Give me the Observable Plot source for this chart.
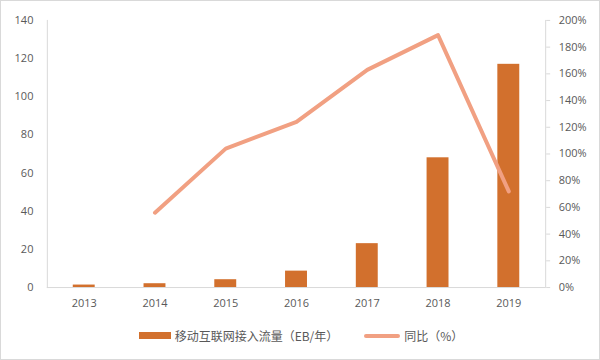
<!DOCTYPE html>
<html><head><meta charset="utf-8">
<script src="https://cdn.jsdelivr.net/npm/d3@7"></script>
<script src="https://cdn.jsdelivr.net/npm/@observablehq/plot@0.6"></script>
<style>
html,body{margin:0;padding:0;background:#fff;}
#wrap{width:598px;height:358px;border:1px solid #d9d9d9;position:relative;overflow:hidden;font-family:"Open Sans","Noto Sans CJK SC",sans-serif;}
#legend{position:absolute;top:326px;left:0;width:600px;display:flex;justify-content:center;gap:26px;font-size:12px;color:#595959;font-family:"Noto Sans CJK SC",sans-serif;}
.item{display:flex;align-items:center;gap:4px;}
.sw{display:inline-block;width:32px;}
</style></head>
<body><div id="wrap"><div id="chart"></div><div id="legend"></div></div>
<script>
const years = ["2013","2014","2015","2016","2017","2018","2019"];
const traffic = [1.3, 2.0, 4.1, 8.6, 23, 68, 117];
const growthYears = ["2014","2015","2016","2017","2018","2019"];
const growth = [56, 104, 124, 163, 189, 72];
const leftTicks = [0,20,40,60,80,100,120,140];
const rightTicks = [0,20,40,60,80,100,120,140,160,180,200];
const seriesNames = ["移动互联网接入流量（EB/年）","同比（%）"];
const barColor = "#D2702D";
const lineColor = "#F1A082";
const k = 140/200;

const bars = years.map((y,i)=>({year:y, v:traffic[i]}));
const pts = growthYears.map((y,i)=>({year:y, p:growth[i]}));

const chart = Plot.plot({
  width: 600, height: 316,
  marginLeft: 46, marginRight: 54, marginTop: 19, marginBottom: 29,
  style: {fontFamily: '"Open Sans",sans-serif', fontSize: "11px", color: "#595959"},
  x: {domain: years, paddingInner: 0.69, paddingOuter: 0.345, label: null},
  y: {domain: [0,140], label: null},
  marks: [
    Plot.frame({anchor: "left", stroke: "#d9d9d9"}),
    Plot.frame({anchor: "right", stroke: "#d9d9d9"}),
    Plot.axisX({tickSize: 0, tickPadding: 12, label: null, fill: "#595959"}),
    Plot.axisY(leftTicks, {anchor: "left", tickSize: 0, tickPadding: 14, label: null, fill: "#595959"}),
    Plot.axisY(rightTicks.map(t=>t*k), {anchor: "right", tickSize: 4, stroke: "#d9d9d9", tickPadding: 9, label: null, fill: "#595959", tickFormat: d => Math.round(d/k) + "%"}),
    Plot.barY(bars, {x: "year", y: "v", fill: barColor}),
    Plot.ruleY([0], {stroke: "#d9d9d9"}),
    Plot.line(pts, {x: "year", y: d => d.p*k, stroke: lineColor, strokeWidth: 4, curve: "linear"})
  ]
});
document.getElementById("chart").appendChild(chart);

const leg = document.getElementById("legend");
leg.innerHTML = `<span class="item"><span class="sw" style="height:7px;background:${barColor}"></span>${seriesNames[0]}</span>
<span class="item"><span class="sw" style="height:4px;border-radius:2px;background:${lineColor};width:36px"></span>${seriesNames[1]}</span>`;
</script></body></html>
